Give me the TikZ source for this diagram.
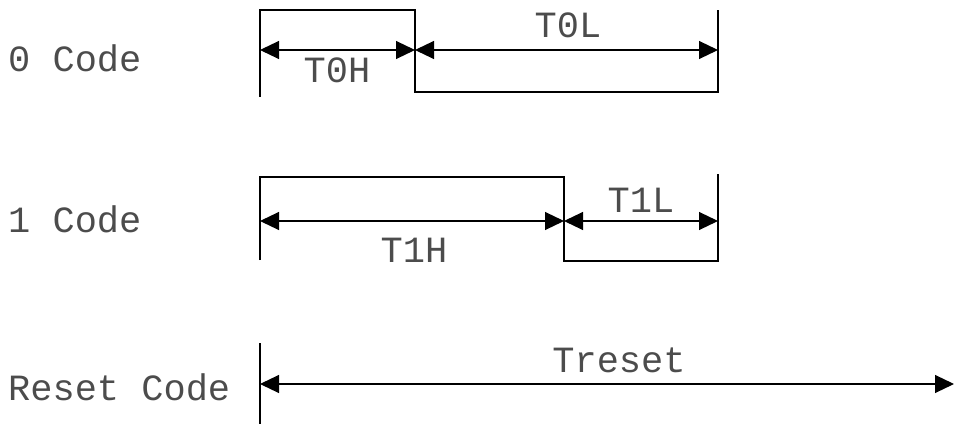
\documentclass[tikz,border=0pt]{standalone}
\usepackage{fontspec}
\setmainfont{Liberation Mono}
\usetikzlibrary{arrows.meta}
\begin{document}
\begin{tikzpicture}[x=1pt,y=-1pt,
  wave/.style={line width=2pt,line join=miter},
  dim/.style={line width=1.1pt,{Triangle[length=19pt,width=18pt]}-{Triangle[length=19pt,width=18pt]}},
  lbl/.style={inner sep=0pt,anchor=base,text=black!70,font=\fontsize{37}{37}\selectfont},
  rowlbl/.style={inner sep=0pt,anchor=base west,text=black!70,font=\fontsize{37}{37}\selectfont}]
\useasboundingbox (0,0) rectangle (956,425);
% Row 0
\coordinate (a0) at (260,97);
\coordinate (a1) at (260,10);
\coordinate (a2) at (415,10);
\coordinate (a3) at (415,92.5);
\coordinate (a4) at (718,92.5);
\coordinate (a5) at (718,10);
\draw[wave] (a0) -- (a1) -- (a2) -- (a3) -- (a4) -- (a5);
\coordinate (d0) at (260,50);
\coordinate (d1) at (415,50);
\coordinate (d2) at (718,50);
\draw[dim] (d0) -- (d1);
\draw[dim] (d1) -- (d2);
\node[rowlbl] (l0) at (8,72) {0 Code};
\node[lbl] (t0h) at (337,83) {T0H};
\node[lbl] (t0l) at (568,38) {T0L};
% Row 1
\coordinate (b0) at (260,260);
\coordinate (b1) at (260,177);
\coordinate (b2) at (564,177);
\coordinate (b3) at (564,261);
\coordinate (b4) at (718,261);
\coordinate (b5) at (718,174);
\draw[wave] (b0) -- (b1) -- (b2) -- (b3) -- (b4) -- (b5);
\coordinate (e0) at (260,221);
\coordinate (e1) at (564,221);
\coordinate (e2) at (718,221);
\draw[dim] (e0) -- (e1);
\draw[dim] (e1) -- (e2);
\node[rowlbl] (l1) at (8,232) {1 Code};
\node[lbl] (t1h) at (414,262) {T1H};
\node[lbl] (t1l) at (641,212) {T1L};
% Row 2
\coordinate (c0) at (260,343);
\coordinate (c1) at (260,424);
\draw[wave] (c0) -- (c1);
\coordinate (f0) at (260,384);
\coordinate (f1) at (954,384);
\draw[dim] (f0) -- (f1);
\node[rowlbl] (l2) at (8,400) {Reset Code};
\node[lbl] (tr) at (619,372) {Treset};
\end{tikzpicture}
\end{document}
